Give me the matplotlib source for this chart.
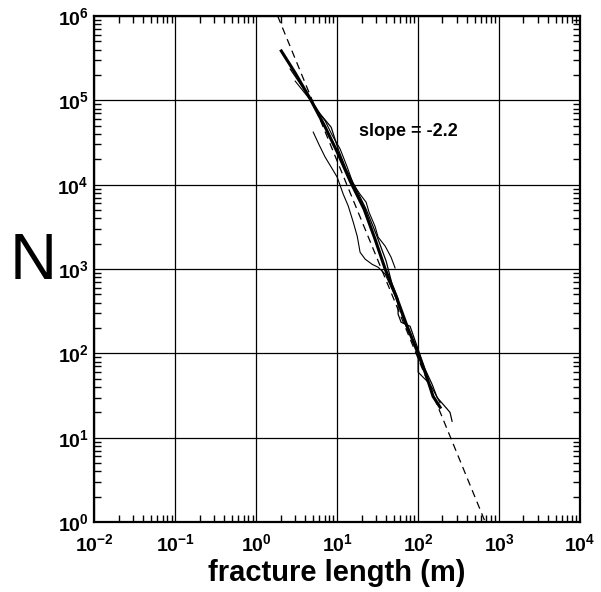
import math
import matplotlib
matplotlib.use("Agg")
import matplotlib.pyplot as plt
from matplotlib.ticker import LogLocator, FuncFormatter, NullFormatter

plt.rcParams['font.family'] = ['Liberation Sans', 'DejaVu Sans']
plt.rcParams['mathtext.fontset'] = 'custom'
plt.rcParams['mathtext.rm'] = 'Liberation Sans:bold'
plt.rcParams['mathtext.bf'] = 'Liberation Sans:bold'
plt.rcParams['mathtext.it'] = 'Liberation Sans:bold'

# ---- data ----
curve_a_x = [2.04, 3.03, 4.65, 7.11, 10.3, 14.5, 21.5, 29.4, 39.2, 53.5, 73.1, 100, 126, 153, 187]
curve_a_y = [3.85e5, 2.11e5, 1.04e5, 4.82e4, 2.31e4, 1.10e4, 5.14e3, 2.26e3, 1.0e3, 478, 210, 100, 55, 31, 23]

curve_b_x = [3.03, 3.80, 4.78, 5.82, 7.11, 8.67, 10.9, 13.3, 15.8, 19.2, 22.8, 24.8, 29.4, 32.1, 39.2, 46.4, 52.0]
curve_b_y = [1.69e5, 1.29e5, 9.8e4, 7.3e4, 5.7e4, 3.87e4, 2.64e4, 1.62e4, 1.02e4, 7.7e3, 6.2e3, 4.7e3, 3.2e3, 2.39e3, 1.87e3, 1.38e3, 1.03e3]

curve_c_x = [5.06, 6.0, 7.11, 8.43, 10.0, 11.9, 13.7, 15.8, 17.7, 19.2, 22.2, 27.0, 32.1, 39.2, 52.0, 69.2, 97, 100, 100, 141, 187]
curve_c_y = [4.2e4, 2.95e4, 2.12e4, 1.62e4, 1.23e4, 7.7e3, 5.6e3, 3.6e3, 2.45e3, 1.58e3, 1.31e3, 1.14e3, 1.05e3, 871, 478, 222, 112, 95, 60, 43, 26]

curve_g_x = [2.63, 4.03, 6.17, 8.43, 10.3, 12.9, 17.2, 22.8, 30.3, 40.3, 47.7, 56.6, 56.6, 61.7, 79.6, 100, 122, 149, 172, 228, 248, 263]
curve_g_y = [2.35e5, 1.29e5, 6.9e4, 4.8e4, 2.64e4, 1.53e4, 8.9e3, 5.1e3, 2.6e3, 1.24e3, 662, 440, 292, 234, 210, 112, 65, 43, 30, 22, 20, 15.7]

fit_x = [1.84, 676]
fit_y = [1e6, 1]

x_ticks = [1e-2, 1e-1, 1e0, 1e1, 1e2, 1e3, 1e4]
y_ticks = [1e0, 1e1, 1e2, 1e3, 1e4, 1e5, 1e6]

slope_label = "slope = -2.2"
slope_pos = (18.7, 4.33e4)

# ---- figure ----
fig = plt.figure(figsize=(6.01, 5.92), dpi=100)
ax = fig.add_axes([0.157, 0.118, 0.808, 0.855])

ax.set_xscale('log')
ax.set_yscale('log')
ax.set_xlim(1e-2, 1e4)
ax.set_ylim(1e0, 1e6)

ax.plot(fit_x, fit_y, color='black', lw=0.9, ls=(0, (6, 4)))
ax.plot(curve_a_x, curve_a_y, color='black', lw=2.2)
ax.plot(curve_b_x, curve_b_y, color='black', lw=0.8)
ax.plot(curve_c_x, curve_c_y, color='black', lw=0.8)
ax.plot(curve_g_x, curve_g_y, color='black', lw=0.9)

ax.text(slope_pos[0], slope_pos[1], slope_label, fontsize=13, fontweight='bold',
        ha='left', va='center')

ax.set_xticks(x_ticks)
ax.set_yticks(y_ticks)
ax.grid(True, which='major', color='black', lw=0.9)
ax.xaxis.set_minor_locator(LogLocator(base=10, subs=range(2, 10), numticks=20))
ax.yaxis.set_minor_locator(LogLocator(base=10, subs=range(2, 10), numticks=20))
ax.xaxis.set_minor_formatter(NullFormatter())
ax.yaxis.set_minor_formatter(NullFormatter())

fmt = FuncFormatter(lambda v, p: r'$\mathbf{10^{%d}}$' % round(math.log10(v)))
ax.xaxis.set_major_formatter(fmt)
ax.yaxis.set_major_formatter(fmt)

ax.tick_params(which='both', direction='in', top=True, right=True, width=1.0)
ax.tick_params(which='major', length=0, labelsize=14)
ax.tick_params(axis='y', which='major', pad=4)
ax.tick_params(axis='x', which='major', pad=8)
ax.tick_params(which='minor', length=5)
for s in ax.spines.values():
    s.set_linewidth(1.6)

ax.set_xlabel('fracture length (m)', fontsize=21, fontweight='bold', labelpad=3)
fig.text(0.056, 0.557, 'N', fontsize=47, ha='center', va='center')

fig.savefig('out.png', dpi=100)
